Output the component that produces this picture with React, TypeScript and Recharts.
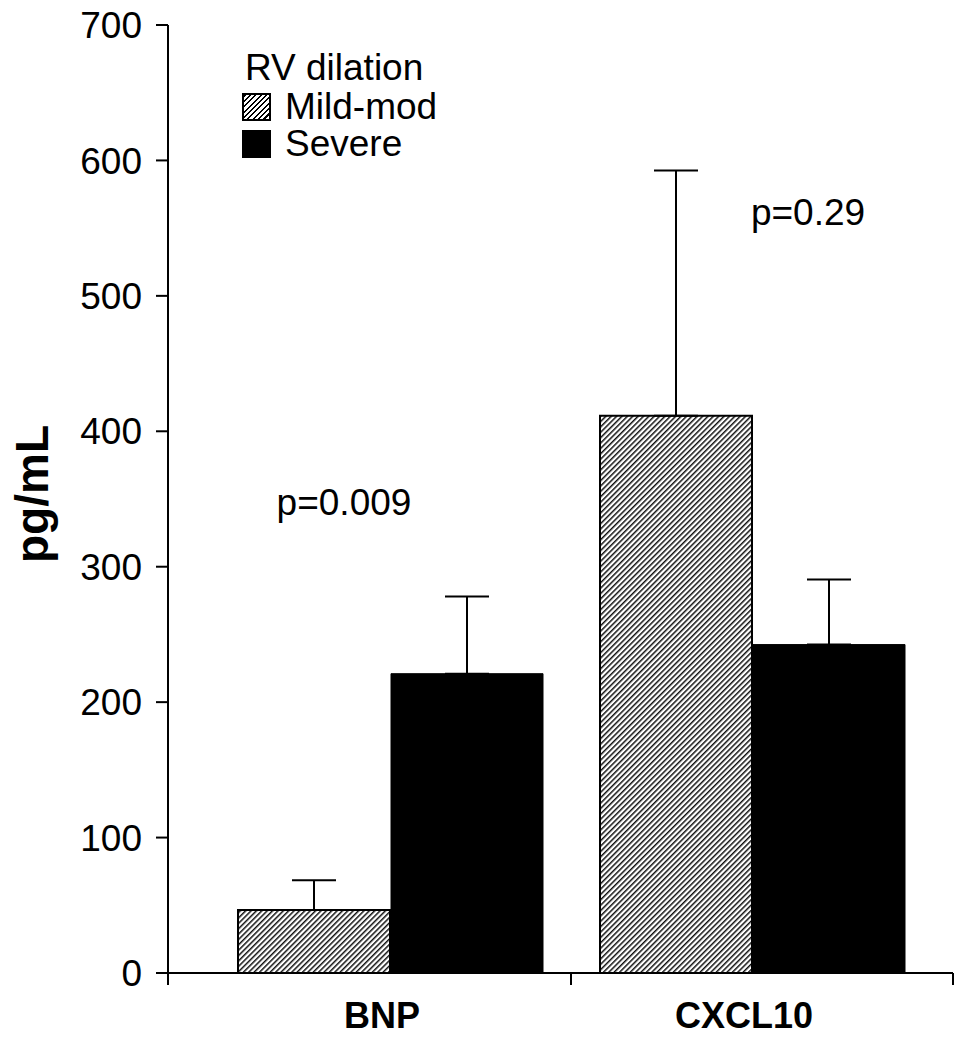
import {
  Bar,
  BarChart,
  ErrorBar,
  Legend,
  ReferenceDot,
  XAxis,
  YAxis,
} from "recharts";

const categories = ["BNP", "CXCL10"];
const mildMod = [46.5, 411.5];
const mildModErr = [22, 181];
const severe = [221, 242.5];
const severeErr = [57, 48];
const yTicks = [0, 100, 200, 300, 400, 500, 600, 700];
const pLabels = ["p=0.009", "p=0.29"];
const pLabelY = [338, 552];

const data = categories.map((name, i) => ({
  name,
  mild: mildMod[i],
  mildErr: [0, mildModErr[i]],
  severe: severe[i],
  severeErr: [0, severeErr[i]],
}));

const FONT = '"Liberation Sans", Arial, sans-serif';
const PLOT_LEFT = 168;
const PLOT_RIGHT = 953;
const PLOT_BOTTOM = 973;
const PAD_LEFT = 41;
const PAD_RIGHT = 20;
const BAND =
  (PLOT_RIGHT - PLOT_LEFT - PAD_LEFT - PAD_RIGHT) / categories.length;
const P_DX = [-46, 56];

const XTick = (props: any) => {
  const { x, payload, index } = props;
  const marks = index === 0 ? [PLOT_LEFT, x + BAND / 2] : [PLOT_RIGHT];
  return (
    <g>
      {marks.map((mx: number) => (
        <line
          key={mx}
          x1={mx}
          x2={mx}
          y1={PLOT_BOTTOM}
          y2={PLOT_BOTTOM + 12}
          stroke="#000"
          strokeWidth={2}
        />
      ))}
      <text
        x={x - 8}
        y={PLOT_BOTTOM + 55}
        textAnchor="middle"
        fontFamily={FONT}
        fontWeight="bold"
        fontSize={36}
        fill="#000"
      >
        {payload.value}
      </text>
    </g>
  );
};

const YLabel = () => (
  <text
    x={32}
    y={494}
    transform="rotate(-90, 32, 494)"
    textAnchor="middle"
    dominantBaseline="central"
    fontFamily={FONT}
    fontWeight="bold"
    fontSize={46}
    fill="#000"
  >
    pg/mL
  </text>
);

const swatch = {
  width: 29,
  height: 28,
  boxSizing: "border-box" as const,
  border: "2px solid #000",
};

const LegendBox = () => (
  <div style={{ fontFamily: FONT, fontSize: 37, color: "#000" }}>
    <div style={{ height: 40, lineHeight: "40px", marginLeft: 3 }}>
      RV dilation
    </div>
    <div style={{ display: "flex", alignItems: "center", height: 37 }}>
      <div
        style={{
          ...swatch,
          background:
            "repeating-linear-gradient(135deg, #000 0 1.5px, #fff 1.5px 3.8px)",
        }}
      />
      <span style={{ marginLeft: 14, lineHeight: "37px" }}>Mild-mod</span>
    </div>
    <div style={{ display: "flex", alignItems: "center", height: 37 }}>
      <div style={{ ...swatch, background: "#000" }} />
      <span style={{ marginLeft: 14, lineHeight: "37px" }}>Severe</span>
    </div>
  </div>
);

export default function App() {
  return (
    <div style={{ position: "absolute", left: 0, top: 0 }}>
      <BarChart
        width={966}
        height={1050}
        data={data}
        margin={{ top: 25, right: 966 - PLOT_RIGHT, left: 0, bottom: 0 }}
        barSize={152}
        barGap={1}
      >
        <defs>
          <pattern
            id="hatch"
            patternUnits="userSpaceOnUse"
            width={3.8}
            height={3.8}
            patternTransform="rotate(45)"
          >
            <rect width={3.8} height={3.8} fill="#fff" />
            <line x1={0} y1={0} x2={0} y2={3.8} stroke="#111" strokeWidth={3} />
          </pattern>
        </defs>
        <XAxis
          dataKey="name"
          height={77}
          padding={{ left: PAD_LEFT, right: PAD_RIGHT }}
          axisLine={{ stroke: "#000", strokeWidth: 2 }}
          tickLine={false}
          tickSize={12}
          tickMargin={0}
          tick={<XTick />}
          interval={0}
        />
        <YAxis
          width={PLOT_LEFT}
          domain={[0, 700]}
          ticks={yTicks}
          interval={0}
          tickSize={12}
          tickMargin={14}
          axisLine={{ stroke: "#000", strokeWidth: 2 }}
          tickLine={{ stroke: "#000", strokeWidth: 2 }}
          tick={{ fill: "#000", fontSize: 37, fontFamily: FONT }}
          label={{ content: YLabel }}
        />
        <Legend
          layout="horizontal"
          verticalAlign="middle"
          align="center"
          wrapperStyle={{ position: "absolute", top: 48, left: 242, width: "auto" }}
          content={LegendBox}
        />
        <Bar
          dataKey="mild"
          name="Mild-mod"
          fill="url(#hatch)"
          stroke="#000"
          strokeWidth={2}
          isAnimationActive={false}
        >
          <ErrorBar
            dataKey="mildErr"
            width={22}
            stroke="#000"
            strokeWidth={2}
            direction="y"
          />
        </Bar>
        <Bar
          dataKey="severe"
          name="Severe"
          fill="#000"
          stroke="#000"
          strokeWidth={1}
          isAnimationActive={false}
        >
          <ErrorBar
            dataKey="severeErr"
            width={22}
            stroke="#000"
            strokeWidth={2}
            direction="y"
          />
        </Bar>
        {categories.map((c, i) => (
          <ReferenceDot
            key={c}
            x={c}
            y={pLabelY[i]}
            r={0}
            shape={(p: any) => (
              <text
                x={p.cx + P_DX[i]}
                y={p.cy}
                textAnchor="middle"
                fontFamily={FONT}
                fontSize={37}
                fill="#000"
              >
                {pLabels[i]}
              </text>
            )}
          />
        ))}
      </BarChart>
    </div>
  );
}
